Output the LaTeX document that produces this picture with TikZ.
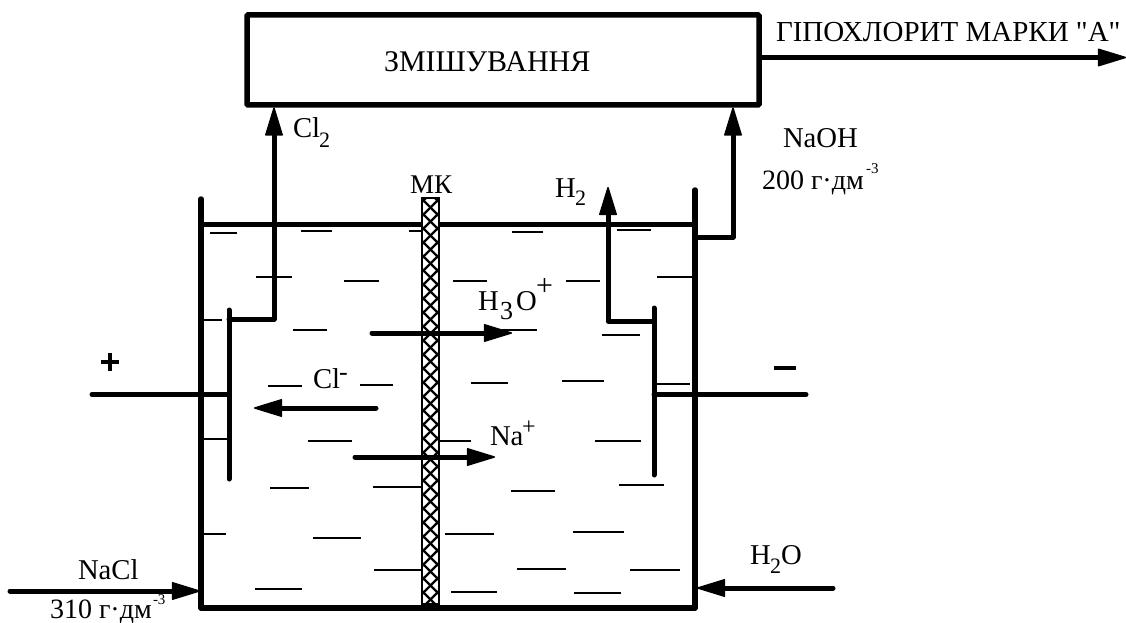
\documentclass[tikz,border=0pt]{standalone}
\usepackage{fontspec}
\setmainfont{Liberation Serif}
\newfontfamily\plainserif{Liberation Serif}
\usetikzlibrary{arrows.meta}
\newcommand{\rmk}[1]{\fontsize{#1}{#1}\selectfont}
\tikzset{
  thick line/.style={line width=5pt,line cap=round,line join=round},
  wall/.style={line width=5.5pt,line cap=round,line join=round},
  flow/.style={line width=5pt,line cap=round,line join=round,-{Triangle[length=30pt,width=18pt,line join=round,line width=1.5pt]}},
  dashmark/.style={line width=1.8pt},
  lbl/.style={anchor=base west,inner sep=0pt,outer sep=0pt,font=\rmk{28.7}},
  small/.style={anchor=base west,inner sep=0pt,outer sep=0pt,font=\rmk{15}},
  midi/.style={anchor=base west,inner sep=0pt,outer sep=0pt,font=\rmk{26}}
}
\begin{document}
\begin{tikzpicture}[x=1pt,y=-1pt]
\useasboundingbox (0,0) rectangle (1126,623);
% mixer
\node[draw,line width=5.5pt,rounded corners=1pt,minimum width=512pt,minimum height=90pt,inner sep=0pt,outer sep=0pt,anchor=north west] (mix) at (247,15) {};
\node[lbl,font=\rmk{30}] (mixt) at (384,72) {ЗМІШУВАННЯ};
% dashes
\foreach \a/\b/\c in {210/237/233,301/332/231,409/423/231,256/292/277,344/379/281,453/487/281,
 202/222/320,293/327/330,268/302/386,360/393/385,471/508/383,512/543/232,617/651/230,566/600/281,
 657/693/277,502/537/330,602/640/335,562/604/381,652/690/384,202/227/439,308/352/441,423/471/441,
 270/309/488,373/423/487,202/226/534,313/361/538,445/494/534,374/425/570,255/302/589,451/497/592,
 595/641/441,511/555/491,619/664/485,573/624/532,517/566/569,630/680/570,574/621/593}
 \draw[dashmark] (\a,\c) -- (\b,\c);
% membrane
\node[draw=black,fill=white,line width=2pt,minimum width=17pt,minimum height=406pt,inner sep=0pt,outer sep=0pt,anchor=north west] (mk) at (422,198) {};
\begin{scope}
\clip (422,198) rectangle (439,604);
\foreach \k in {0,...,30}{
  \draw[line width=2.4pt] (422,185+14*\k) -- (439,202+14*\k);
  \draw[line width=2.4pt] (439,185+14*\k) -- (422,202+14*\k);
}
\end{scope}
\draw[line width=2pt] (mk.north west) rectangle (mk.south east);
% tank
\coordinate (tl) at (201,199);
\coordinate (bl) at (201,608);
\coordinate (br) at (695,608);
\coordinate (tr) at (695,190);
\draw[wall] (tl) -- (bl) -- (br) -- (tr);
\coordinate (ll) at (201,224);
\coordinate (lr) at (695,224);
\draw[line width=5pt] (ll) -- (422,224) (439,224) -- (lr);
% electrodes
\coordinate (ea) at (229,310);
\coordinate (eb) at (229,479);
\coordinate (ec) at (654,308);
\coordinate (ed) at (654,475);
\draw[thick line] (ea) -- (eb);
\draw[thick line] (ec) -- (ed);
\coordinate (pt) at (92,394.5);
\coordinate (pe) at (229,394.5);
\coordinate (nt) at (806,394.5);
\coordinate (ne) at (654,394.5);
\draw[thick line] (pt) -- (pe);
\draw[thick line] (nt) -- (ne);
% gas / product lines
\coordinate (cla) at (229,319);
\coordinate (clb) at (274,319);
\coordinate (clc) at (274,107.5);
\draw[flow] (cla) -- (clb) -- (clc);
\coordinate (ha) at (654,321);
\coordinate (hb) at (608,321);
\coordinate (hc) at (608,187);
\draw[flow] (ha) -- (hb) -- (hc);
\coordinate (na) at (695,237);
\coordinate (nb) at (733,237);
\coordinate (nc) at (733,107.5);
\draw[flow] (na) -- (nb) -- (nc);
\coordinate (oa) at (759,57.5);
\coordinate (ob) at (1126,57.5);
\draw[flow,line cap=butt] (oa) -- (ob);
% ions
\coordinate (ha1) at (372,333); \coordinate (ha2) at (512,333);
\draw[flow] (ha1) -- (ha2);
\coordinate (cl1) at (376,408); \coordinate (cl2) at (254,408);
\draw[flow] (cl1) -- (cl2);
\coordinate (nn1) at (355,457); \coordinate (nn2) at (495,457);
\draw[flow] (nn1) -- (nn2);
% feeds
\coordinate (nc1) at (10,591); \coordinate (nc2) at (200,591);
\draw[flow] (nc1) -- (nc2);
\coordinate (w1) at (833,588); \coordinate (w2) at (697,588);
\draw[flow] (w1) -- (w2);
% output label
\node[lbl,font=\rmk{29}\plainserif] (out) at (776,42) {ГІПОХЛОРИТ МАРКИ "А"};
% signs
\coordinate (p1) at (101,362); \coordinate (p2) at (119,362);
\coordinate (p3) at (110,353); \coordinate (p4) at (110,371);
\draw[line width=3.4pt] (p1) -- (p2) (p3) -- (p4);
\coordinate (m1) at (774,368); \coordinate (m2) at (796,368);
\draw[line width=3.4pt] (m1) -- (m2);
% labels
\node[lbl] (l1) at (293,138) {Cl};
\node[small,font=\rmk{22}] (l1s) at (319,147) {2};
\node[lbl,font=\rmk{27}] (l2) at (410,193) {МК};
\node[lbl] (l3) at (555,197) {H};
\node[small,font=\rmk{22}] (l3s) at (575,205) {2};
\node[lbl] (l4) at (478,310) {H};
\node[midi] (l4s) at (500,319) {3};
\node[lbl] (l4o) at (516,310) {O};
\node[midi,font=\rmk{30}] (l4p) at (536,295) {+};
\node[lbl] (l5) at (313,388) {Cl};
\node[midi] (l5p) at (339,380) {-};
\node[lbl] (l6) at (490,445) {Na};
\node[small,font=\rmk{24}] (l6p) at (522,434) {+};
\node[lbl] (l7) at (783,147) {NaOH};
\node[lbl,font=\rmk{28}] (l8) at (762,189) {200 г·дм};
\node[small] (l8s) at (866,173) {-3};
\node[lbl] (l9) at (78,579) {NaCl};
\node[lbl,font=\rmk{28}] (l10) at (50,618) {310 г·дм};
\node[small] (l10s) at (153,604) {-3};
\node[lbl] (l11) at (750,564) {H};
\node[small,font=\rmk{22}] (l11s) at (770,573) {2};
\node[lbl] (l11o) at (781,564) {O};
\end{tikzpicture}
\end{document}
